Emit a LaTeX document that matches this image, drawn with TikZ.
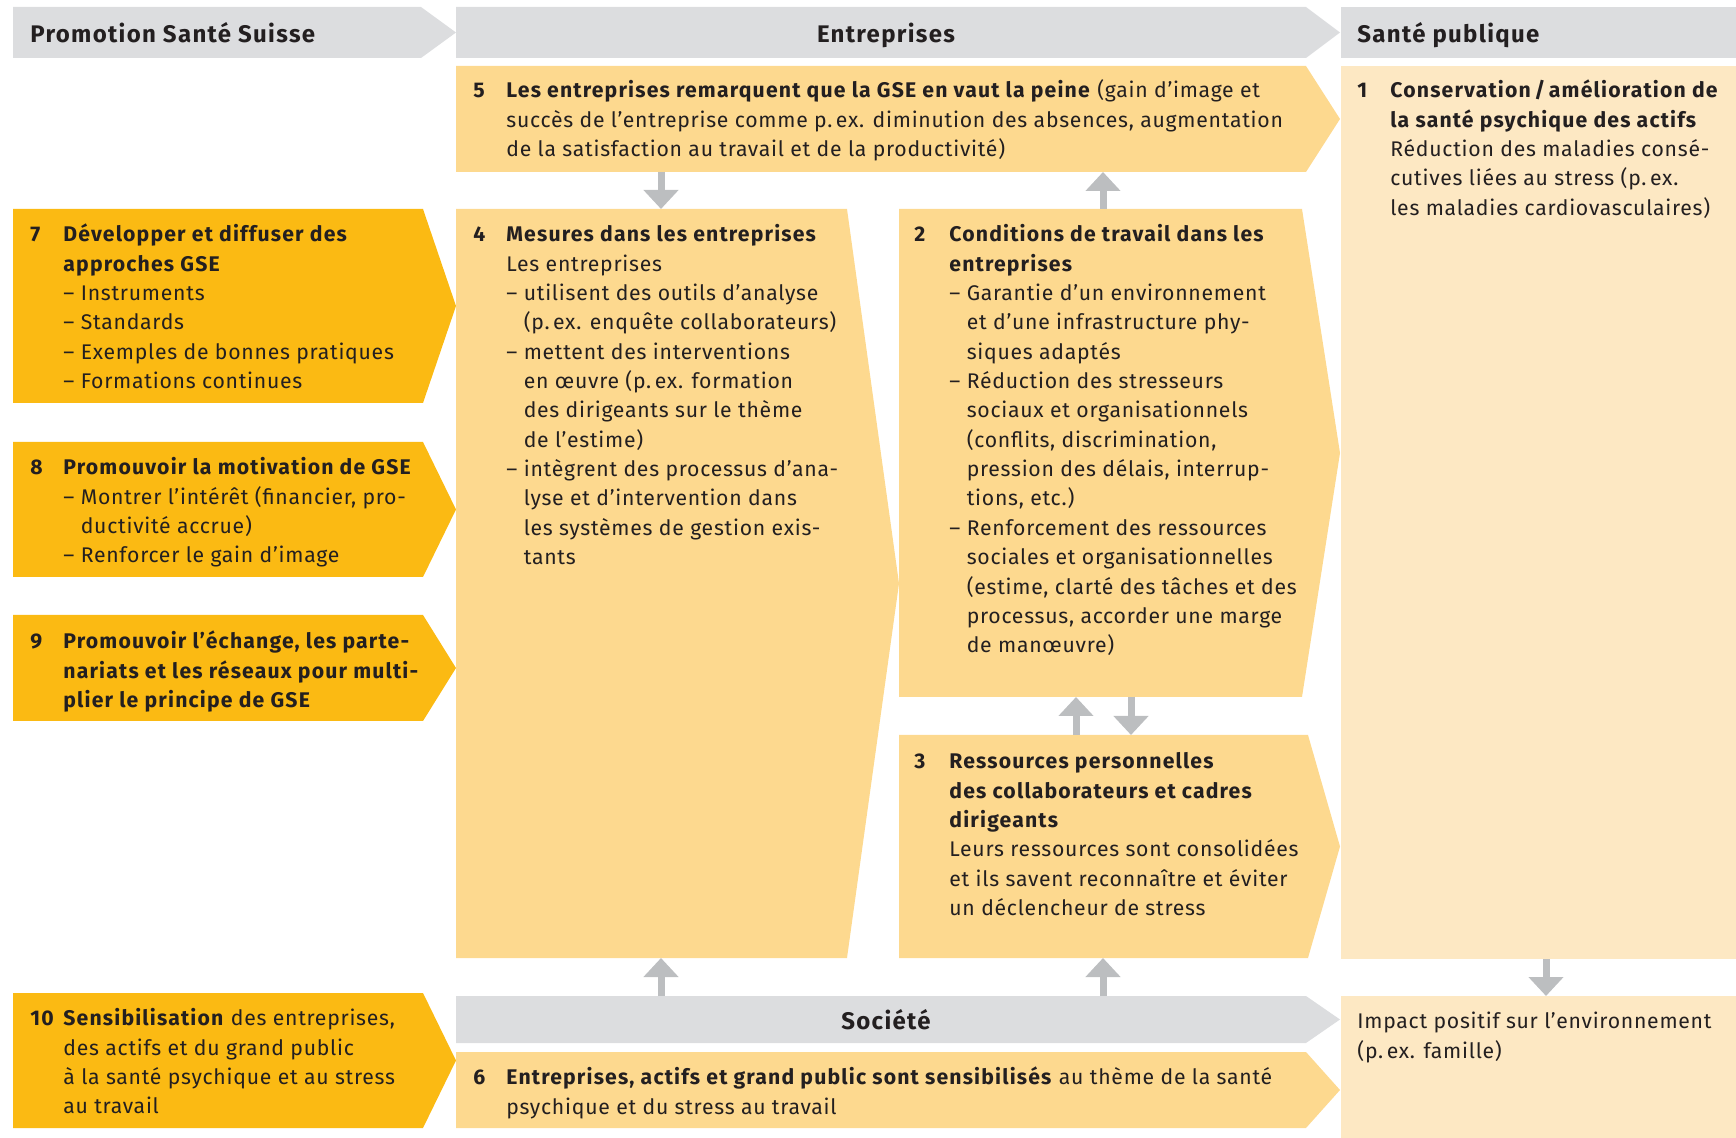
\documentclass[tikz,border=0pt]{standalone}
\usepackage{fontspec}
\setmainfont{Fira Sans}[LetterSpace=3.5, BoldFeatures={LetterSpace=5.5}]
\usetikzlibrary{arrows.meta}

\definecolor{ink}{HTML}{231F20}
\definecolor{headgrey}{HTML}{DCDDDF}
\definecolor{arrowgrey}{HTML}{BCBEC0}
\definecolor{gold}{HTML}{FBBA13}
\definecolor{apricot}{HTML}{FDD98F}
\definecolor{cream}{HTML}{FDE8C3}

\newcommand\bodyfont{\fontsize{10.6}{14.67}\selectfont}
\newcommand\headfont{\fontsize{12.0}{15}\selectfont\bfseries}
\newcommand\ind{\phantom{– }}
% chevron box: colour, left, top, right, bottom, tip length
\newcommand\chevbox[6]{\fill[#1] (#2,#3) -- (#4,#3) -- ({#4+#6},{(#3+#5)/2}) -- (#4,#5) -- (#2,#5) -- cycle;}

\begin{document}
\begin{tikzpicture}[x=0.5pt, y=-0.5pt,
  txt/.style={anchor=north west, inner sep=0pt, align=left, text=ink, font=\bodyfont},
  num/.style={txt, font=\bodyfont\bfseries},
  head/.style={inner sep=0pt, anchor=base, text=ink, font=\headfont},
  flow/.style={draw=arrowgrey, line width=3.5pt, -{Triangle[width=17pt, length=9.5pt]}}]

\useasboundingbox (0,0) rectangle (1736,1138);

% ===== Column positions =====
\def\xA{13}      % left edge Promotion Santé Suisse
\def\xB{456}     % left edge Entreprises
\def\xM{899}     % left edge boxes 2 and 3
\def\xC{1341}    % left edge Santé publique

% ===== Header row =====
\chevbox{headgrey}{\xA}{7}{421}{58}{35}
\chevbox{headgrey}{\xB}{7}{1306}{58}{34}
\fill[headgrey] (\xC,7) rectangle (1736,58);
\node[head, anchor=base west] (hPSS) at (30,43) {Promotion Santé Suisse};
\node[head] (hEnt) at (886,43) {Entreprises};
\node[head, anchor=base west] (hSP) at (1357,43) {Santé publique};

% ===== Promotion Santé Suisse (7 to 10) =====
\foreach \t/\b in {209/403, 442/577, 615/721, 993/1128} {
    \chevbox{gold}{\xA}{\t}{423}{\b}{33}
}
\node[num] (n7) at (30,221) {\strut 7};
\node[txt] (t7) at (63,221) {\strut\textbf{Développer et diffuser des}\\\textbf{approches GSE}\\– Instruments\\– Standards\\– Exemples de bonnes pratiques\\– Formations continues};
\node[num] (n8) at (30,454) {\strut 8};
\node[txt] (t8) at (63,454) {\strut\textbf{Promouvoir la motivation de GSE}\\– Montrer l’intérêt (financier, pro-\\\ind ductivité accrue)\\– Renforcer le gain d’image};
\node[num] (n9) at (30,628) {\strut 9};
\node[txt] (t9) at (63,628) {\strut\textbf{Promouvoir l’échange, les parte-}\\\textbf{nariats et les réseaux pour multi-}\\\textbf{plier le principe de GSE}};
\node[num] (n10) at (30,1005) {\strut 10};
\node[txt] (t10) at (63,1005) {\strut\textbf{Sensibilisation} des entreprises,\\des actifs et du grand public\\à la santé psychique et au stress\\au travail};

% ===== Entreprises (5, 4, 2, 3) =====
\chevbox{apricot}{\xB}{66}{1306}{172}{34}
\chevbox{apricot}{\xB}{209}{847}{958}{52}
\chevbox{apricot}{\xM}{209}{1302}{697}{38}
\chevbox{apricot}{\xM}{735}{1308}{958}{32}

\node[num] (n5) at (473,77) {\strut 5};
\node[txt] (t5) at (506,77) {\strut\textbf{Les entreprises remarquent que la GSE en vaut la peine} (gain d’image et\\succès de l’entreprise comme p.\,ex. diminution des absences, augmentation\\de la satisfaction au travail et de la productivité)};
\node[num] (n4) at (473,221) {\strut 4};
\node[txt] (t4) at (506,221) {\strut\textbf{Mesures dans les entreprises}\\Les entreprises\\– utilisent des outils d’analyse\\\ind (p.\,ex. enquête collaborateurs)\\– mettent des interventions\\\ind en œuvre (p.\,ex. formation\\\ind des dirigeants sur le thème\\\ind de l’estime)\\– intègrent des processus d’ana-\\\ind lyse et d’intervention dans\\\ind les systèmes de gestion exis-\\\ind tants};
\node[num] (n2) at (914,221) {\strut 2};
\node[txt] (t2) at (949,221) {\strut\textbf{Conditions de travail dans les}\\\textbf{entreprises}\\– Garantie d’un environnement\\\ind et d’une infrastructure phy-\\\ind siques adaptés\\– Réduction des stresseurs\\\ind sociaux et organisationnels\\\ind (conflits, discrimination,\\\ind pression des délais, interrup-\\\ind tions, etc.)\\– Renforcement des ressources\\\ind sociales et organisationnelles\\\ind (estime, clarté des tâches et des\\\ind processus, accorder une marge\\\ind de manœuvre)};
\node[num] (n3) at (914,748) {\strut 3};
\node[txt] (t3) at (949,748) {\strut\textbf{Ressources personnelles}\\\textbf{des collaborateurs et cadres}\\\textbf{dirigeants}\\Leurs ressources sont consolidées\\et ils savent reconnaître et éviter\\un déclencheur de stress};

% ===== Société (6) =====
\chevbox{headgrey}{\xB}{996}{1306}{1043}{34}
\chevbox{apricot}{\xB}{1052}{1306}{1128}{34}
\node[head] (hSoc) at (886,1029) {Société};
\node[num] (n6) at (473,1064) {\strut 6};
\node[txt] (t6) at (506,1064) {\strut\textbf{Entreprises, actifs et grand public sont sensibilisés} au thème de la santé\\psychique et du stress au travail};

% ===== Santé publique (1) =====
\fill[cream] (\xC,66) rectangle (1736,959);
\fill[cream] (\xC,996) rectangle (1736,1138);
\node[num] (n1) at (1357,77) {\strut 1};
\node[txt] (t1) at (1390,77) {\strut\textbf{Conservation\,/\,amélioration de}\\\textbf{la santé psychique des actifs}\\Réduction des maladies consé-\\cutives liées au stress (p.\,ex.\\les maladies cardiovasculaires)};
\node[txt] (tEnv) at (1357,1008) {\strut Impact positif sur l’environnement\\(p.\,ex. famille)};

% ===== Connections =====
\coordinate (b5s) at (661,172);   \coordinate (b4n) at (661,209);
\coordinate (b2n) at (1103,209);  \coordinate (b5t) at (1103,172);
\coordinate (b3a) at (1076,735);  \coordinate (b2a) at (1076,697);
\coordinate (b2b) at (1131,697);  \coordinate (b3b) at (1131,735);
\coordinate (soc4) at (661,996);  \coordinate (b4s) at (661,958);
\coordinate (soc3) at (1103,996); \coordinate (b3s) at (1103,958);
\coordinate (b1s) at (1546,959);  \coordinate (envn) at (1546,996);
\draw[flow] (b5s) -- (b4n);
\draw[flow] (b2n) -- (b5t);
\draw[flow] (b3a) -- (b2a);
\draw[flow] (b2b) -- (b3b);
\draw[flow] (soc4) -- (b4s);
\draw[flow] (soc3) -- (b3s);
\draw[flow] (b1s) -- (envn);

\end{tikzpicture}
\end{document}
